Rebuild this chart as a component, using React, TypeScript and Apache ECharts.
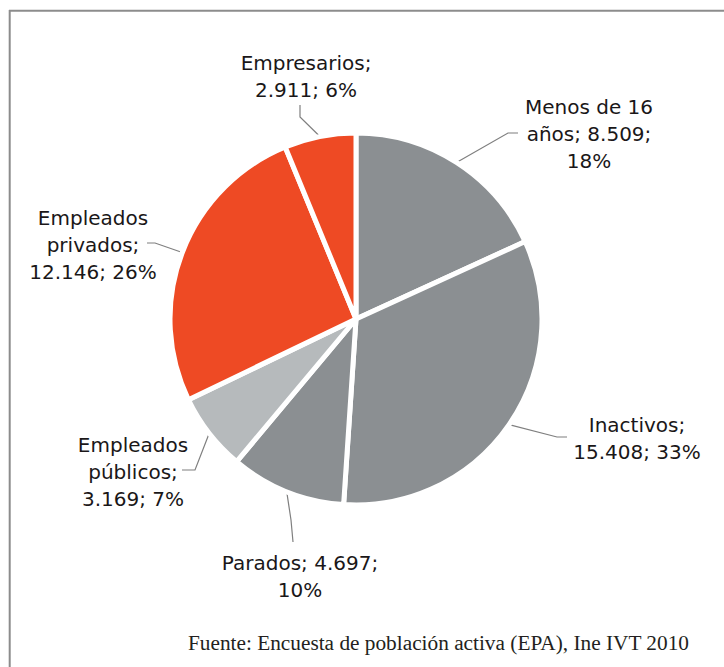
import React, { useEffect, useRef } from "react";
import * as echarts from "echarts";

const categories = [
  "Menos de 16 años",
  "Inactivos",
  "Parados",
  "Empleados públicos",
  "Empleados privados",
  "Empresarios",
];
const values = [8509, 15408, 4697, 3169, 12146, 2911];
const colors = ["#8b8f92", "#8b8f92", "#8b8f92", "#b6babc", "#ee4a24", "#ee4a24"];
const labelTemplates = [
  "Menos de 16\naños; {v};\n{p}",
  "Inactivos;\n{v}; {p}",
  "Parados; {v};\n{p}",
  "Empleados\npúblicos;\n{v}; {p}",
  "Empleados\nprivados;\n{v}; {p}",
  "Empresarios;\n{v}; {p}",
];
const sourceText = "Fuente: Encuesta de población activa (EPA), Ine IVT 2010";

// layout (label block centres and leader line bends), not data
const CX = 356;
const CY = 319;
const R = 186;
const labelPos: number[][] = [
  [589, 134],
  [637, 438],
  [300, 576],
  [133, 472],
  [93, 245],
  [306, 76],
];
const linePts: number[][][] = [
  [[508, 133], [518, 133]],
  [[557, 437], [567, 437]],
  [[291, 520], [293, 542]],
  [[195, 470], [182, 470]],
  [[155, 243], [147, 243]],
  [[300, 117], [300, 105]],
];

const fmt = (v: number) => String(v).replace(/\B(?=(\d{3})+(?!\d))/g, ".");

export default function App() {
  const ref = useRef<HTMLDivElement>(null);
  useEffect(() => {
    if (!ref.current) return;
    const chart = echarts.init(ref.current, null, { renderer: "svg" });
    const total = values.reduce((a, b) => a + b, 0);
    const edgePoint = (i: number) => {
      let before = 0;
      for (let k = 0; k < i; k++) before += values[k];
      const mid = (before + values[i] / 2) / total;
      const ang = ((90 - mid * 360) * Math.PI) / 180;
      return [CX + R * Math.cos(ang), CY - R * Math.sin(ang)];
    };
    chart.setOption({
      animation: false,
      backgroundColor: "#ffffff",
      graphic: [
        {
          type: "line",
          shape: { x1: 9.7, y1: 10, x2: 9.7, y2: 667 },
          style: { stroke: "#8c8c8c", lineWidth: 2 },
        },
        {
          type: "line",
          shape: { x1: 9, y1: 10.8, x2: 724, y2: 10.8 },
          style: { stroke: "#8c8c8c", lineWidth: 2 },
        },
        {
          type: "text",
          x: 188,
          y: 643,
          style: {
            text: sourceText,
            font: '21.3px "Liberation Serif", "Times New Roman", serif',
            fill: "#231f20",
            verticalAlign: "middle",
            align: "left",
          },
        },
      ],
      series: [
        {
          type: "pie",
          center: [CX, CY],
          radius: R,
          startAngle: 90,
          clockwise: true,
          avoidLabelOverlap: false,
          emphasis: { disabled: true },
          itemStyle: { borderColor: "#ffffff", borderWidth: 5 },
          label: {
            show: true,
            position: "outside",
            fontFamily: '"DejaVu Sans", Verdana, sans-serif',
            fontSize: 20,
            lineHeight: 27,
            color: "#1a1718",
            align: "center",
            formatter: (p: any) =>
              labelTemplates[p.dataIndex]
                .replace("{v}", fmt(p.value))
                .replace("{p}", Math.round(p.percent) + "%"),
          },
          labelLine: {
            show: true,
            smooth: false,
            lineStyle: { color: "#7f7f7f", width: 1.2 },
          },
          labelLayout: (params: any) => {
            const i = params.dataIndex;
            const edge =
              params.labelLinePoints && params.labelLinePoints[0]
                ? params.labelLinePoints[0]
                : edgePoint(i);
            return {
              x: labelPos[i][0],
              y: labelPos[i][1],
              align: "center",
              verticalAlign: "middle",
              labelLinePoints: [edge, linePts[i][0], linePts[i][1]],
            };
          },
          data: categories.map((name, i) => ({
            name,
            value: values[i],
            itemStyle: { color: colors[i] },
          })),
        },
      ],
    });
    return () => chart.dispose();
  }, []);
  return (
    <div
      ref={ref}
      style={{ position: "fixed", left: 0, top: 0, width: 724, height: 667 }}
    />
  );
}
